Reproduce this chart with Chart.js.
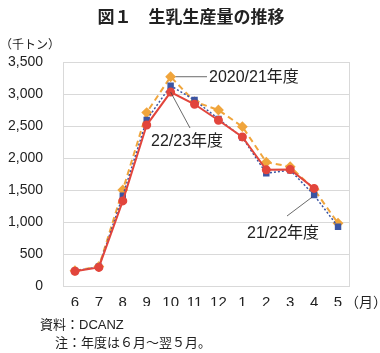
<!DOCTYPE html>
<html>
<head>
<meta charset="utf-8">
<script src="https://cdn.jsdelivr.net/npm/chart.js@4"></script>
<style>
  body { margin: 0; background: #fff; }
  #wrap { position: relative; width: 380px; height: 353px; }
</style>
</head>
<body>
<div id="wrap"><canvas id="milkChart" width="380" height="353"></canvas></div>
<script>
const months = ['6', '7', '8', '9', '10', '11', '12', '1', '2', '3', '4', '5'];
const fy2223 = [230, 290, 1330, 2515, 3030, 2840, 2590, 2330, 1815, 1820, 1525, null];
const fy2122 = [235, 300, 1410, 2595, 3130, 2905, 2610, 2320, 1760, 1810, 1420, 925];
const fy2021 = [240, 305, 1500, 2710, 3270, 2880, 2750, 2490, 1935, 1865, 1510, 980];
const yTicks = [0, 500, 1000, 1500, 2000, 2500, 3000, 3500];

const FONT = '"Liberation Sans", "Noto Sans CJK JP", sans-serif';
const JFONT = '"Noto Sans CJK JP", sans-serif';
const GRID = '#d9d9d9';

// frame, title, unit labels, notes and series labels
const decorPlugin = {
    id: 'decor',
    beforeDatasetsDraw(chart) {
        const { ctx, chartArea: a } = chart;
        ctx.save();
        ctx.strokeStyle = GRID;
        ctx.lineWidth = 1;
        ctx.strokeRect(a.left + 0.5, a.top + 0.5, a.right - a.left - 1, a.bottom - a.top);
        ctx.restore();
    },
    afterDraw(chart) {
        const { ctx } = chart;
        const x = chart.scales.x, y = chart.scales.y;
        ctx.save();
        ctx.fillStyle = '#222';
        ctx.textBaseline = 'middle';

        ctx.font = 'bold 17px ' + JFONT;
        ctx.textAlign = 'center';
        ctx.fillText('図１　生乳生産量の推移', 191, 17);

        ctx.font = '12px ' + JFONT;
        ctx.textAlign = 'left';
        ctx.fillText('（千トン）', 0, 44);
        ctx.font = '14px ' + JFONT;
        ctx.fillText('（月）', 345, 302);

        ctx.font = '13px ' + FONT;
        ctx.fillText('資料：DCANZ', 40, 325);
        ctx.fillText('注：年度は６月～翌５月。', 55, 343);

        // series labels with leader lines
        ctx.strokeStyle = '#444';
        ctx.lineWidth = 0.8;
        const leader = (x1, y1, x2, y2) => {
            ctx.beginPath();
            ctx.moveTo(x1, y1);
            ctx.lineTo(x2, y2);
            ctx.stroke();
        };
        leader(x.getPixelForValue(4) + 5, y.getPixelForValue(fy2021[4]), 207, y.getPixelForValue(fy2021[4]));
        leader(x.getPixelForValue(4), y.getPixelForValue(fy2223[4]), 190, 128);
        leader(x.getPixelForValue(10) - 2, y.getPixelForValue(fy2122[10]) + 2, 287, 216);

        ctx.font = '16px ' + FONT;
        ctx.fillText('2020/21年度', 209, 78);
        ctx.fillText('22/23年度', 151, 142);
        ctx.fillText('21/22年度', 247, 234);
        ctx.restore();
    }
};

const ctxMilk = document.getElementById('milkChart').getContext('2d');
const milkChart = new Chart(ctxMilk, {
    type: 'line',
    data: {
        labels: months,
        datasets: [{
            label: '22/23年度',
            data: fy2223,
            borderColor: '#e2453c',
            backgroundColor: '#e2453c',
            borderWidth: 2,
            pointStyle: 'circle',
            pointRadius: 3.5,
            order: 1,
        }, {
            label: '21/22年度',
            data: fy2122,
            borderColor: '#3b55a3',
            backgroundColor: '#3b55a3',
            borderWidth: 1.5,
            borderDash: [2, 2],
            pointStyle: 'rect',
            pointRadius: 3.5,
            order: 2,
        }, {
            label: '2020/21年度',
            data: fy2021,
            borderColor: '#f0a53c',
            backgroundColor: '#f0a53c',
            borderWidth: 2,
            borderDash: [6, 4],
            pointStyle: 'rectRot',
            pointRadius: 4,
            order: 3,
        }]
    },
    options: {
        responsive: false,
        animation: false,
        locale: 'en-US',
        layout: { padding: { top: 62, right: 30, bottom: 47, left: 0 } },
        plugins: { legend: { display: false }, tooltip: { enabled: false } },
        scales: {
            x: {
                offset: true,
                grid: { display: false, drawTicks: false },
                border: { display: false },
                ticks: { color: '#222', font: { family: FONT, size: 15 }, padding: 8, autoSkip: false, maxRotation: 0 },
                afterFit: (scale) => { scale.height = 20; }
            },
            y: {
                min: 0,
                max: 3500,
                afterBuildTicks: (scale) => { scale.ticks = yTicks.map(v => ({ value: v })); },
                grid: { color: GRID, drawTicks: false },
                border: { display: false },
                ticks: { color: '#222', font: { family: FONT, size: 14 }, padding: 20 },
                afterFit: (scale) => { scale.width = 63; }
            }
        }
    },
    plugins: [decorPlugin]
});
</script>
</body>
</html>
